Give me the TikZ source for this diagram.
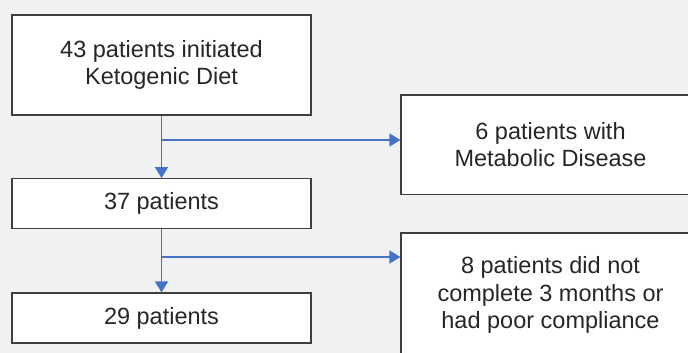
\documentclass[tikz,border=0pt]{standalone}
\usepackage{fontspec}
\setmainfont{Liberation Sans}
\usetikzlibrary{arrows.meta}
\definecolor{bgc}{HTML}{F0F1F3}
\definecolor{edgec}{HTML}{3F3F3F}
\definecolor{txtc}{HTML}{262626}
\definecolor{arrc}{HTML}{4472C4}
\tikzset{
  flowbox/.style={draw=edgec, line width=1.2pt, fill=white, text=txtc, align=center,
    inner sep=0pt, minimum width=299pt,
    font=\fontsize{23.5}{27.5}\selectfont},
  conn/.style={draw=arrc, line width=1.3pt, -{Triangle[length=11pt,width=13pt]}}
}
\begin{document}
\begin{tikzpicture}[x=1pt,y=-1pt]
\useasboundingbox (0,0) rectangle (688,353);
\fill[bgc] (0,0) rectangle (688,353);
\clip (0,0) rectangle (688,353);
\node[flowbox, minimum height=100pt] (b1) at (161.5,65) {43 patients initiated\\Ketogenic Diet};
\node[flowbox, minimum height=50pt] (b2) at (161.5,203.7) {37 patients};
\node[flowbox, minimum height=50pt] (b3) at (161.5,318) {29 patients};
\node[flowbox, minimum height=99.5pt] (r1) at (550.5,144.7) {6 patients with\\Metabolic Disease};
\node[flowbox, minimum height=124pt] (r2) at (550.5,295) {8 patients did not\\complete 3 months or\\had poor compliance};
\coordinate (j1) at (161.5,140);
\coordinate (j2) at (161.5,257);
\draw[conn] (b1.south) -- (b2.north);
\draw[conn] (b2.south) -- (b3.north);
\draw[conn] (j1) -- (j1 -| r1.west);
\draw[conn] (j2) -- (j2 -| r2.west);
\end{tikzpicture}
\end{document}
